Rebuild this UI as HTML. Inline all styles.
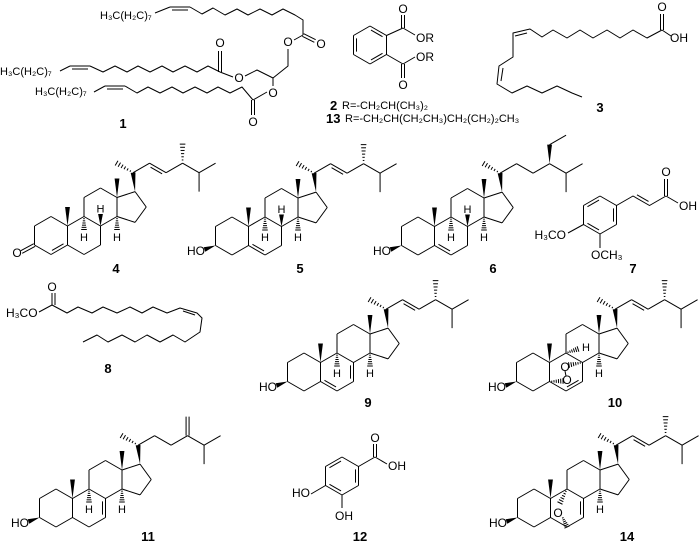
<!DOCTYPE html>
<html><head><meta charset="utf-8"><style>
html,body{margin:0;padding:0;background:#fff;}
svg{display:block;}
text{font-family:"Liberation Sans",sans-serif;font-size:12px;fill:#000;}
.n{font-weight:bold;font-size:13px;}
.h{font-size:11px;}
.s{font-size:11px;}
</style></head><body>
<svg id="s" width="700" height="546" viewBox="0 0 700 546" xmlns="http://www.w3.org/2000/svg">
<g id="g" stroke="#000" stroke-width="1" fill="none" stroke-linejoin="round"></g>
<text class="s" x="100" y="19">H₃C(H₂C)₇</text>
<text class="s" x="0" y="75">H₃C(H₂C)₇</text>
<text class="s" x="35" y="95">H₃C(H₂C)₇</text>
<text x="288" y="46" text-anchor="middle">O</text>
<text x="321" y="48" text-anchor="middle">O</text>
<text x="220" y="47" text-anchor="middle">O</text>
<text x="239" y="82" text-anchor="middle">O</text>
<text x="273" y="97" text-anchor="middle">O</text>
<text x="253" y="126" text-anchor="middle">O</text>
<text class="n" x="123" y="128" text-anchor="middle">1</text>
<text x="403" y="13" text-anchor="middle">O</text>
<text x="416" y="42">OR</text>
<text x="416" y="61">OR</text>
<text x="403" y="89" text-anchor="middle">O</text>
<text class="n" x="330" y="110">2</text>
<text class="s" x="342" y="109">R=-CH₂CH(CH₃)₂</text>
<text class="n" x="326" y="123">13</text>
<text class="s" x="345" y="122">R=-CH₂CH(CH₂CH₃)CH₂(CH₂)₂CH₃</text>
<text x="662" y="11" text-anchor="middle">O</text>
<text x="670" y="42">OH</text>
<text class="n" x="600" y="112" text-anchor="middle">3</text>
<text x="17" y="257" text-anchor="middle">O</text>
<text class="h" x="100.5" y="212.5" text-anchor="middle">H</text>
<text class="h" x="84" y="241" text-anchor="middle">H</text>
<text class="h" x="117" y="241" text-anchor="middle">H</text>
<text class="n" x="116" y="273" text-anchor="middle">4</text>
<text x="205" y="255" text-anchor="end">HO</text>
<text class="h" x="281.5" y="213" text-anchor="middle">H</text>
<text class="h" x="265" y="241" text-anchor="middle">H</text>
<text class="h" x="298" y="241" text-anchor="middle">H</text>
<text class="n" x="300" y="273" text-anchor="middle">5</text>
<text x="391" y="255" text-anchor="end">HO</text>
<text class="h" x="467.5" y="213" text-anchor="middle">H</text>
<text class="h" x="451" y="241" text-anchor="middle">H</text>
<text class="h" x="484" y="241" text-anchor="middle">H</text>
<text class="n" x="493" y="273" text-anchor="middle">6</text>
<text x="666" y="176" text-anchor="middle">O</text>
<text x="679" y="210">OH</text>
<text x="566" y="239" text-anchor="end">H₃CO</text>
<text x="591" y="259">OCH₃</text>
<text class="n" x="633" y="273" text-anchor="middle">7</text>
<text x="52" y="291" text-anchor="middle">O</text>
<text x="6" y="317">H₃CO</text>
<text class="n" x="108" y="373" text-anchor="middle">8</text>
<text x="277" y="391" text-anchor="end">HO</text>
<text class="h" x="337" y="377" text-anchor="middle">H</text>
<text class="h" x="370" y="377" text-anchor="middle">H</text>
<text class="n" x="368" y="407" text-anchor="middle">9</text>
<text x="506" y="391" text-anchor="end">HO</text>
<text class="h" x="586" y="351" text-anchor="middle">H</text>
<text class="h" x="599" y="377" text-anchor="middle">H</text>
<text x="565" y="371" text-anchor="middle">O</text>
<text x="567" y="384" text-anchor="middle">O</text>
<text class="n" x="615" y="407" text-anchor="middle">10</text>
<text x="29" y="527" text-anchor="end">HO</text>
<text class="h" x="89" y="513" text-anchor="middle">H</text>
<text class="h" x="122" y="513" text-anchor="middle">H</text>
<text class="n" x="148" y="541" text-anchor="middle">11</text>
<text x="375" y="442" text-anchor="middle">O</text>
<text x="388" y="470">OH</text>
<text x="310" y="497" text-anchor="end">HO</text>
<text x="335" y="520">OH</text>
<text class="n" x="360" y="541" text-anchor="middle">12</text>
<text x="507" y="527" text-anchor="end">HO</text>
<text class="h" x="600" y="513" text-anchor="middle">H</text>
<text x="558" y="517" text-anchor="middle">O</text>
<text class="n" x="627" y="541" text-anchor="middle">14</text>
</svg>
<script>
var out=[];
function L(a,b,c,d){out.push('<line x1="'+a+'" y1="'+b+'" x2="'+c+'" y2="'+d+'"/>');}
function P(p){var s=[];for(var i=0;i<p.length;i+=2)s.push(p[i]+','+p[i+1]);out.push('<polyline points="'+s.join(' ')+'"/>');}
function W(a,b){var dx=b[0]-a[0],dy=b[1]-a[1],l=Math.hypot(dx,dy),nx=-dy/l*2.4,ny=dx/l*2.4;
out.push('<polygon fill="#000" stroke="none" points="'+a[0]+','+a[1]+' '+(b[0]+nx)+','+(b[1]+ny)+' '+(b[0]-nx)+','+(b[1]-ny)+'"/>');}
function H(a,b){var dx=b[0]-a[0],dy=b[1]-a[1],l=Math.hypot(dx,dy),nx=-dy/l,ny=dx/l;
for(var i=1;i<=6;i++){var t=i/6,x=a[0]+dx*t,y=a[1]+dy*t,w=0.4+t*2.4;L(x+nx*w,y+ny*w,x-nx*w,y-ny*w);}}
function D(a,b,c){var mx=(a[0]+b[0])/2,my=(a[1]+b[1])/2,dx=b[0]-a[0],dy=b[1]-a[1],l=Math.hypot(dx,dy),nx=-dy/l,ny=dx/l;
if((c[0]-mx)*nx+(c[1]-my)*ny<0){nx=-nx;ny=-ny;}var o=3,s=0.15;
L(a[0]+dx*s+nx*o,a[1]+dy*s+ny*o,b[0]-dx*s+nx*o,b[1]-dy*s+ny*o);}
function DD(a,b){var dx=b[0]-a[0],dy=b[1]-a[1],l=Math.hypot(dx,dy),nx=-dy/l*1.5,ny=dx/l*1.5;
L(a[0]+nx,a[1]+ny,b[0]+nx,b[1]+ny);L(a[0]-nx,a[1]-ny,b[0]-nx,b[1]-ny);}
function Ln(a,b){L(a[0],a[1],b[0],b[1]);}
var b=19,h=16.5;
function add(p,dx,dy){return [p[0]+dx,p[1]+dy];}
function ster(ox,oy,o){
 var C1=[ox,oy-b],C10=[ox+h,oy-b/2],C5=[ox+h,oy+b/2],C4=[ox,oy+b],C3=[ox-h,oy+b/2],C2=[ox-h,oy-b/2];
 var C9=[ox+2*h,oy-b],C8=[ox+3*h,oy-b/2],C7=[ox+3*h,oy+b/2],C6=[ox+2*h,oy+b];
 var C11=[ox+2*h,oy-2*b],C12=[ox+3*h,oy-2.5*b],C13=[ox+4*h,oy-2*b],C14=[ox+4*h,oy-b];
 var pc=[ox+4*h+13.08,oy-1.5*b],R=16.16;
 function pv(d){var r=d*Math.PI/180;return [pc[0]+R*Math.cos(r),pc[1]+R*Math.sin(r)];}
 var C17=pv(-72),C16=pv(0),C15=pv(72);
 var bonds=[[C1,C2],[C2,C3],[C3,C4],[C4,C5],[C5,C10],[C10,C1],[C10,C9],[C9,C8],[C8,C7],[C7,C6],[C6,C5],
 [C9,C11],[C11,C12],[C12,C13],[C13,C14],[C14,C8],[C13,C17],[C17,C16],[C16,C15],[C15,C14]];
 bonds.forEach(function(q){Ln(q[0],q[1]);});
 var cA=[ox,oy],cB=[ox+2*h,oy];
 W(C10,[C10[0],C10[1]-19]);W(C13,[C13[0],C13[1]-19]);
 if(o.keto){D(C4,C5,cA);DD(C3,[ox-h-13,oy+b/2+7]);}
 else W(C3,[ox-h-11,oy+b/2+4]);
 if(o.d56)D(C5,C6,cB);
 if(o.d67)D(C6,C7,cB);
 if(o.d78)D(C7,C8,cB);
 if(o.h8)W(C8,[C8[0],C8[1]-12]);
 if(o.h9)H(C9,[C9[0],C9[1]+13]);
 if(o.h9r)H(C9,[C9[0]+12,C9[1]-4]);
 H(C14,[C14[0],C14[1]+13]);
 if(o.perox){H(C8,[ox+36,oy-7]);H(C5,[ox+30,oy+9]);L(ox+32,oy-1,ox+33,oy+4);}
 if(o.epox){H(C9,[ox+26,oy-5]);H([ox+28,oy+8],C6);}
 var C20=add(C17,-2,-19);W(C17,C20);
 var C21=add(C20,-16.5,-9.5);H(C20,C21);
 var C22=add(C20,16.5,-9.5),C23=add(C20,33,0),C24=add(C20,49.5,-9.5),C25=add(C20,66,0),C26=add(C20,82.5,-9.5),C27=add(C20,66,19);
 Ln(C20,C22);Ln(C22,C23);Ln(C23,C24);Ln(C24,C25);Ln(C25,C26);Ln(C25,C27);
 var C28=add(C24,0,-19);
 if(o.chain=='erg'){D(C22,C23,[C22[0]+8,C22[1]+20]);H(C24,C28);}
 if(o.chain=='sito'){W(C24,C28);Ln(C28,add(C28,16.5,-9.5));}
 if(o.chain=='exo'){L(C24[0]-1.5,C24[1],C28[0]-1.5,C28[1]);L(C24[0]+1.5,C24[1],C28[0]+1.5,C28[1]);}
}
ster(51,235.5,{keto:1,h8:1,h9:1,chain:'erg'});
ster(232,236,{d56:1,h8:1,h9:1,chain:'erg'});
ster(418,236,{d56:1,h8:1,h9:1,chain:'sito'});
ster(304,372,{d56:1,d78:1,h9:1,chain:'erg'});
ster(533,372,{d67:1,h9r:1,perox:1,chain:'erg'});
ster(56,508,{d78:1,h9:1,chain:'exo'});
ster(534,508,{d78:1,epox:1,chain:'erg'});
function hex(cx,cy,dbl){var v=[[cx,cy-b],[cx+h,cy-b/2],[cx+h,cy+b/2],[cx,cy+b],[cx-h,cy+b/2],[cx-h,cy-b/2]];
 for(var i=0;i<6;i++){Ln(v[i],v[(i+1)%6]);if(dbl.indexOf(i)>=0)D(v[i],v[(i+1)%6],[cx,cy]);}return v;}
var v=hex(370,45,[0,2,4]);
Ln(v[1],[403,28]);DD([403,28],[403,15]);Ln([403,28],[415,35]);
Ln(v[2],[403,64]);DD([403,64],[403,78]);Ln([403,64],[415,57]);
v=hex(600,215,[1,3,5]);
P([616.5,205.5,633,196,649.5,205.5,666,196]);D([633,196],[649.5,205.5],[640,180]);
DD([666,196],[666,179]);L(666,196,678,203);
Ln(v[4],[568,233]);Ln(v[3],[600,248]);
v=hex(342,476,[1,3,5]);
Ln(v[1],[375,457]);DD([375,457],[375,444]);L(375,457,387,464);
Ln(v[4],[311,494]);Ln(v[3],[342,508]);
P([155,13,170,7]);L(170,7,190,7);L(172,10,188,10);
P([190,7,202,14,213,8,225,15,237,9,248,15,260,9,272,15,283,9,295,15,303,20,303,35]);
DD([303,35],[315,41]);L(303,35,294,40);P([288,49,288,66,273,78]);
P([60,71,70,66]);L(70,66,90,66);L(72,69,88,69);
P([90,66,103,72,115,66,127,72,138,66,150,72,162,66,173,72,185,66,197,72,208,66,220,72]);
DD([220,72],[220,51]);L(220,72,233,77);P([245,76,257,70,273,78]);
P([94,92,105,86]);L(105,86,125,86);L(107,89,123,89);
P([125,86,137,93,148,87,160,93,172,87,183,93,195,87,207,93,218,87,230,93,242,87,253,100]);
DD([253,100],[253,115]);L(253,100,267,92);L(273,86,273,78);
DD([662,30],[662,14]);L(662,30,671,36);
P([662,30,647,38,633,30,620,38,607,30,593,38,580,30,567,38,553,30,542,37,530,29,513,33,513,57,499,66,497,84,512,93,527,86,542,93,557,86,572,93,582,97]);
L(527,33,515,36);L(503,68,501,81);
L(52,305,52,293);L(55,305,55,293);L(39,312,52,305);
P([52,305,67,313,78,307,92,313,103,307,117,313,130,307,142,313,153,307,167,313,180,308,197,313,202,318,200,332,185,342,173,335,160,342,147,335,135,342,122,335,108,342,97,335,83,342]);
L(183,311,195,315);
document.getElementById('g').innerHTML=out.join('');
</script>
</body></html>
